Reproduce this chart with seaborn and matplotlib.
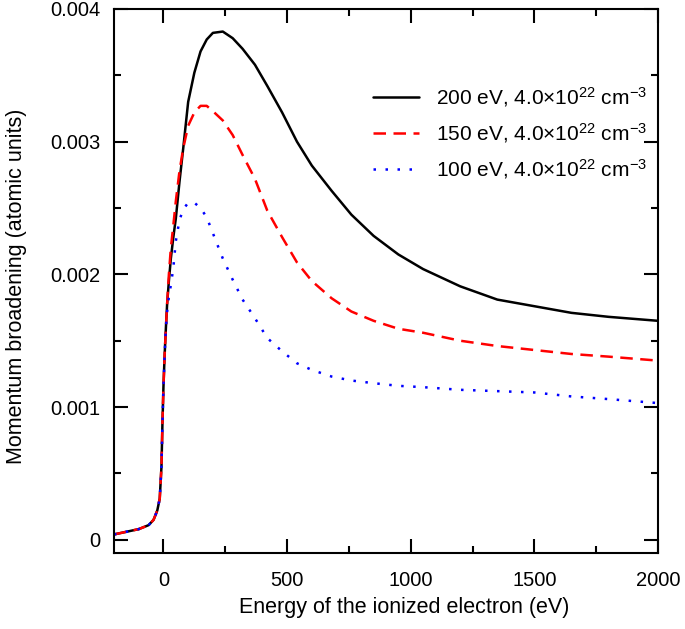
import numpy as np
import pandas as pd
import matplotlib
matplotlib.use("Agg")
import matplotlib.pyplot as plt
from matplotlib.ticker import MultipleLocator, FuncFormatter
import seaborn as sns

# energy of the ionized electron (eV), shared grid for all curves
energy = [-200, -150, -100, -60, -40, -25, -15, -8, -4, 0, 5, 10,
          15, 22, 30, 40, 50, 65, 80, 100, 125, 150, 175, 200, 240, 280,
          320, 370, 420, 480, 540, 600, 680, 760, 850, 950, 1050, 1200,
          1350, 1500, 1650, 1800, 2000]

# common low-energy part (all three curves overlap here)
rise = [0.00004, 0.00006, 0.00008, 0.00011, 0.00015, 0.00022, 0.00031,
        0.00055, 0.00088, 0.00115, 0.00140, 0.00160]

broad_200 = rise + [0.00178, 0.00195, 0.00212, 0.00228, 0.00242, 0.00270,
                    0.00295, 0.00330, 0.00352, 0.00368, 0.00377, 0.00382,
                    0.00383, 0.00378, 0.00370, 0.00358, 0.00342, 0.00322,
                    0.00300, 0.00282, 0.00263, 0.00245, 0.00229, 0.00215,
                    0.00204, 0.00191, 0.00181, 0.00176, 0.00171, 0.00168,
                    0.00165]
broad_150 = rise + [0.00178, 0.00200, 0.00220, 0.00237, 0.00255, 0.00278,
                    0.00295, 0.00312, 0.00322, 0.00327, 0.00327, 0.00323,
                    0.00316, 0.00305, 0.00290, 0.00272, 0.00248, 0.00228,
                    0.00209, 0.00195, 0.00182, 0.00172, 0.00165, 0.00159,
                    0.00156, 0.00150, 0.00146, 0.00143, 0.00140, 0.00138,
                    0.00135]
broad_100 = rise + [0.00172, 0.00183, 0.00192, 0.00205, 0.00225, 0.00241,
                    0.00249, 0.00254, 0.00254, 0.00250, 0.00243, 0.00231,
                    0.00212, 0.00196, 0.00181, 0.00167, 0.00152, 0.00142,
                    0.00133, 0.00128, 0.00123, 0.00120, 0.00118, 0.00116,
                    0.00115, 0.00113, 0.00112, 0.00111, 0.00108, 0.00106,
                    0.00103]

labels = [r"200 eV, 4.0$\times$10$^{22}$ cm$^{-3}$",
          r"150 eV, 4.0$\times$10$^{22}$ cm$^{-3}$",
          r"100 eV, 4.0$\times$10$^{22}$ cm$^{-3}$"]

sns.set_style("ticks")
plt.rcParams["font.family"] = ["Liberation Sans", "DejaVu Sans"]
plt.rcParams["mathtext.fontset"] = "custom"
plt.rcParams["mathtext.rm"] = "Liberation Sans"
plt.rcParams["mathtext.it"] = "Liberation Sans:italic"
plt.rcParams["text.color"] = "black"
plt.rcParams["axes.labelcolor"] = "black"
plt.rcParams["xtick.color"] = "black"
plt.rcParams["ytick.color"] = "black"
plt.rcParams["axes.edgecolor"] = "black"

fig = plt.figure(figsize=(6.85, 6.29), dpi=100)
ax = fig.add_axes([0.1664, 0.1208, 0.7942, 0.8649])

styles = [("black", None), ("#ff0000", (5, 3)), ("#0000ff", (1, 3.8))]
for vals, lab, (col, dash) in zip([broad_200, broad_150, broad_100], labels, styles):
    df = pd.DataFrame({"energy": energy, "broadening": vals})
    sns.lineplot(data=df, x="energy", y="broadening", ax=ax, color=col,
                 linewidth=1.8, label=lab)
    if dash is not None:
        ax.get_lines()[-1].set_dashes(dash)

ax.set_xlim(-200, 2000)
ax.set_ylim(-0.0001, 0.004)
ax.xaxis.set_major_locator(MultipleLocator(500))
ax.xaxis.set_minor_locator(MultipleLocator(250))
ax.yaxis.set_major_locator(MultipleLocator(0.001))
ax.yaxis.set_minor_locator(MultipleLocator(0.0005))
ax.yaxis.set_major_formatter(FuncFormatter(lambda v, p: "0" if abs(v) < 1e-9 else f"{v:.3f}"))

ax.tick_params(which="both", direction="in", top=True, right=True, width=1.5,
               labelsize=14.5)
ax.tick_params(which="major", length=10)
ax.tick_params(which="minor", length=5)
ax.tick_params(axis="x", pad=13)
ax.tick_params(axis="y", pad=10)
for s in ax.spines.values():
    s.set_linewidth(1.5)

ax.set_xlabel("Energy of the ionized electron (eV)", fontsize=15.5)
ax.set_ylabel("Momentum broadening (atomic units)", fontsize=15.5)
ax.xaxis.set_label_coords(0.533, -0.080)
ax.yaxis.set_label_coords(-0.16, 0.49)

ax.legend(loc="upper right", bbox_to_anchor=(0.995, 0.876), frameon=False,
          fontsize=15, handlelength=2.2, handletextpad=0.8, labelspacing=0.6,
          borderaxespad=0.0)

fig.savefig("out.png", dpi=100)
